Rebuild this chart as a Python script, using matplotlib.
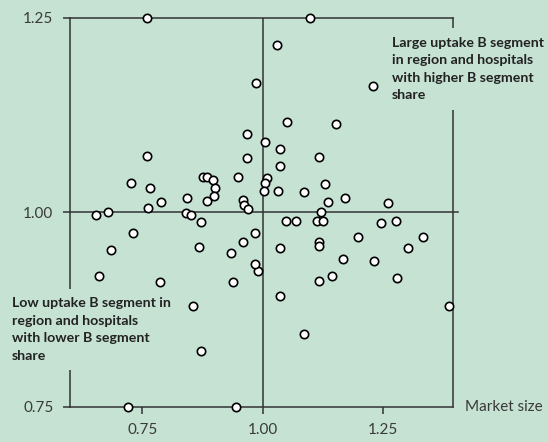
import matplotlib
matplotlib.use("Agg")
import matplotlib.pyplot as plt

# market size (x) vs B segment share index (y), one point per hospital
market_size = [
    0.759, 1.098, 1.030, 0.987, 1.230, 1.050, 1.152, 0.967, 1.004, 1.036,
    0.759, 0.967, 1.116, 1.036, 0.727, 0.767, 0.876, 0.884, 0.897, 0.902,
    0.900, 0.885, 0.948, 1.009, 1.004, 1.002, 1.032, 1.130, 1.086, 1.135,
    1.172, 1.261, 0.789, 0.761, 0.843, 0.959, 0.961, 0.970, 0.654, 0.679,
    0.840, 0.852, 0.873, 1.121, 1.048, 1.069, 1.112, 1.125, 1.246, 1.277,
    1.198, 1.333, 1.036, 1.116, 1.116, 1.302, 1.166, 1.232, 0.991, 1.145,
    1.116, 1.279, 1.036, 1.387, 1.086, 0.730, 0.685, 0.867, 0.934, 0.959,
    0.984, 0.984, 0.660, 0.787, 0.939, 0.856, 0.871, 0.721, 0.945,
]
segment_share = [
    1.250, 1.250, 1.215, 1.166, 1.162, 1.116, 1.114, 1.101, 1.091, 1.081,
    1.072, 1.070, 1.071, 1.059, 1.038, 1.031, 1.045, 1.045, 1.042, 1.031,
    1.021, 1.015, 1.045, 1.044, 1.038, 1.027, 1.027, 1.036, 1.026, 1.013,
    1.018, 1.012, 1.013, 1.006, 1.018, 1.016, 1.009, 1.004, 0.997, 1.000,
    0.999, 0.997, 0.988, 1.000, 0.989, 0.989, 0.989, 0.989, 0.986, 0.989,
    0.968, 0.968, 0.954, 0.962, 0.957, 0.954, 0.940, 0.937, 0.924, 0.918,
    0.912, 0.915, 0.893, 0.880, 0.843, 0.974, 0.951, 0.956, 0.948, 0.962,
    0.974, 0.934, 0.918, 0.910, 0.910, 0.880, 0.821, 0.750, 0.750,
]
ticks = [0.75, 1.00, 1.25]
tick_labels = ["0.75", "1.00", "1.25"]
text_high = "Large uptake B segment\nin region and hospitals\nwith higher B segment\nshare"
text_low = "Low uptake B segment in\nregion and hospitals\nwith lower B segment\nshare"

bg = "#c5e2d3"
dark = "#333333"
plt.rcParams["font.family"] = ["Lato", "DejaVu Sans"]

fig = plt.figure(figsize=(5.48, 4.42), dpi=100, facecolor=bg)
ax = fig.add_axes([0.1277, 0.0799, 0.6996, 0.8794], facecolor=bg)

ax.set_xlim(0.60, 1.396)
ax.set_ylim(0.75, 1.25)

for s in ax.spines.values():
    s.set_color(dark)
    s.set_linewidth(1.1)

ax.axvline(1.0, color=dark, lw=1.1, zorder=2)
ax.plot([0, 1.013], [0.5, 0.5], transform=ax.transAxes, color=dark, lw=1.1,
        clip_on=False, zorder=2)

ax.scatter(market_size, segment_share, s=36, facecolor="white",
           edgecolor="black", linewidth=1.2, zorder=4, clip_on=False)

ax.set_xticks(ticks)
ax.set_xticklabels(tick_labels)
ax.set_yticks(ticks)
ax.set_yticklabels(tick_labels)
ax.tick_params(direction="out", length=5, width=1.1, color=dark,
               labelsize=11, labelcolor="#3a3a3a", pad=7)

ax.text(1.03, 0.0, "Market size", transform=ax.transAxes, ha="left",
        va="center", fontsize=11, color="#3a3a3a")

box = dict(facecolor=bg, edgecolor="none", pad=6)
ax.text(1.268, 1.226, text_high, ha="left", va="top", fontsize=10.2,
        fontweight="bold", color="#222222", linespacing=1.55,
        bbox=box, zorder=5, clip_on=False)
ax.text(0.479, 0.891, text_low, ha="left", va="top", fontsize=10.2,
        fontweight="bold", color="#222222", linespacing=1.55,
        bbox=box, zorder=5, clip_on=False)

fig.savefig("out.png", dpi=100, facecolor=bg)
